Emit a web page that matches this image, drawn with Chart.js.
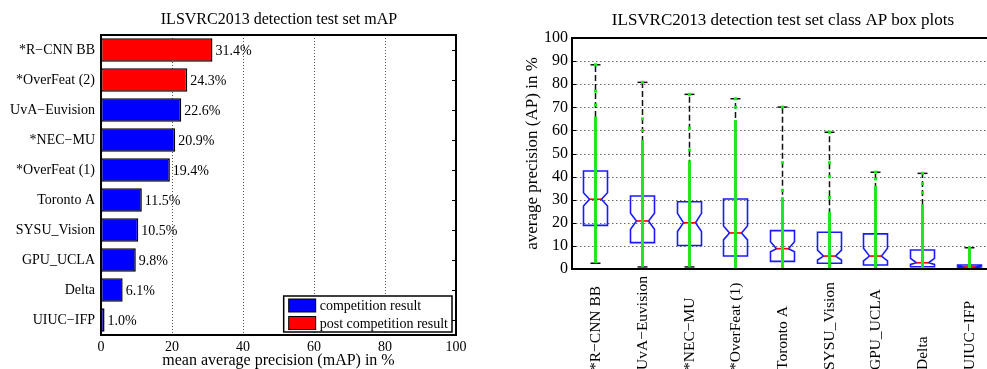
<!DOCTYPE html>
<html><head><meta charset="utf-8">
<script src="https://cdn.jsdelivr.net/npm/chart.js@4"></script>
<style>
html,body{margin:0;padding:0;background:#fff;overflow:hidden;width:987px;height:369px;}
#c1{position:absolute;left:0;top:0;}
#c2{position:absolute;left:500px;top:0;}
</style></head><body>
<canvas id="c1" width="558" height="369"></canvas>
<canvas id="c2" width="566" height="369"></canvas>
<script>
// ---------- data: left chart (mAP) ----------
const categories = ['*R−CNN BB', '*OverFeat (2)', 'UvA−Euvision', '*NEC−MU', '*OverFeat (1)', 'Toronto A', 'SYSU_Vision', 'GPU_UCLA', 'Delta', 'UIUC−IFP'];
const competitionMAP = [null, null, 22.6, 20.9, 19.4, 11.5, 10.5, 9.8, 6.1, 1.0];
const postCompetitionMAP = [31.4, 24.3, null, null, null, null, null, null, null, null];
const mapTicks = [0, 20, 40, 60, 80, 100];

// ---------- data: right chart (class AP box plots) ----------
const boxCategories = ['*R−CNN BB', 'UvA−Euvision', '*NEC−MU', '*OverFeat (1)', 'Toronto A', 'SYSU_Vision', 'GPU_UCLA', 'Delta', 'UIUC−IFP'];
const whiskerHigh = [88.4, 80.8, 75.6, 73.7, 70.1, 59.2, 41.9, 41.4, 9.2];
const quartile3   = [42.4, 31.6, 29.1, 30.3, 16.6, 15.9, 15.2, 8.2, 1.7];
const notchHigh   = [33.0, 24.1, 24.1, 18.6, 11.8, 8.2, 9.0, 4.6, 1.3];
const medianAP    = [30.2, 20.8, 20.0, 15.6, 8.8, 5.6, 5.6, 2.7, 0.9];
const notchLow    = [27.3, 17.2, 16.2, 12.6, 7.5, 3.9, 3.5, 2.0, 0.5];
const quartile1   = [18.9, 11.4, 10.2, 5.6, 3.3, 2.5, 1.7, 1.0, 0.2];
const whiskerLow  = [2.5, 0.9, 0.9, 0, 0, 0, 0, 0, 0];
const classAPDenseTop = [66, 55.8, 47, 64.5, 31, 24.8, 36, 28, 9.2];
const classAPSparse = [
  [71, 77, 88.4],
  [60, 65, 80.8],
  [51.5, 61, 75.6],
  [70, 73.7],
  [34, 46, 70.1],
  [31, 40, 46, 59.2],
  [39, 41.9],
  [33, 37, 41.4],
  [9.2]
];
const apTicks = [0, 10, 20, 30, 40, 50, 60, 70, 80, 90, 100];

const FONT = "'Liberation Serif', 'Times New Roman', serif";
const BLUE = '#0000ff', RED = '#ff0000';

// ---------- left chart decorations ----------
const leftDecor = {
  id: 'leftDecor',
  beforeDatasetsDraw(chart) {
    const {ctx, chartArea: a, scales: {x}} = chart;
    ctx.save();
    ctx.strokeStyle = '#555'; ctx.lineWidth = 1; ctx.setLineDash([1, 2]);
    mapTicks.forEach(v => {
      if (v === x.min || v === x.max) return;
      const px = Math.round(x.getPixelForValue(v)) + 0.5;
      ctx.beginPath(); ctx.moveTo(px, a.top); ctx.lineTo(px, a.bottom); ctx.stroke();
    });
    ctx.restore();
  },
  afterDatasetsDraw(chart) {
    const {ctx, chartArea: a, scales: {x, y}} = chart;
    ctx.save();
    // value labels
    ctx.font = '14px ' + FONT; ctx.fillStyle = '#000';
    ctx.textAlign = 'left'; ctx.textBaseline = 'middle';
    chart.data.datasets.forEach(ds => {
      ds.data.forEach((v, i) => {
        if (v == null) return;
        ctx.fillText(v.toFixed(1) + '%', x.getPixelForValue(v) + 3, y.getPixelForValue(i) + 1);
      });
    });
    // frame
    ctx.strokeStyle = '#000'; ctx.lineWidth = 2;
    ctx.strokeRect(a.left, a.top, a.right - a.left, a.bottom - a.top);
    // inside tick marks on right border
    ctx.lineWidth = 1;
    categories.forEach((c, i) => {
      const py = Math.round(y.getPixelForValue(i)) + 0.5;
      ctx.beginPath(); ctx.moveTo(a.right, py); ctx.lineTo(a.right - 4, py); ctx.stroke();
    });
    // legend
    ctx.font = '14px ' + FONT;
    const items = chart.data.datasets.map(ds => ({label: ds.label, color: ds.backgroundColor}));
    const tw = Math.max(...items.map(it => ctx.measureText(it.label).width));
    const bw = 5 + 27 + 4 + tw + 4, bh = 36;
    const bx = a.right - 4 - bw, by = a.bottom - 3 - bh;
    ctx.fillStyle = '#fff'; ctx.fillRect(bx, by, bw, bh);
    ctx.lineWidth = 1.5; ctx.strokeStyle = '#000'; ctx.strokeRect(bx, by, bw, bh);
    items.forEach((it, i) => {
      const cy = by + 9.5 + i * 17.5;
      ctx.fillStyle = it.color; ctx.fillRect(bx + 5, cy - 6.5, 27, 13);
      ctx.lineWidth = 1; ctx.strokeRect(bx + 5, cy - 6.5, 27, 13);
      ctx.fillStyle = '#000'; ctx.fillText(it.label, bx + 36, cy + 1);
    });
    ctx.restore();
  }
};

const spacer = (w) => ({type: 'linear', position: 'right', display: true,
  ticks: {display: false}, grid: {display: false, drawTicks: false}, border: {display: false},
  afterFit(s) { s.width = w; }});

new Chart(document.getElementById('c1'), {
  type: 'bar',
  data: {
    labels: categories,
    datasets: [
      {label: 'competition result', data: competitionMAP, backgroundColor: BLUE, borderColor: '#000', borderWidth: 1.5, borderSkipped: false, barPercentage: 0.78, categoryPercentage: 1},
      {label: 'post competition result', data: postCompetitionMAP, backgroundColor: RED, borderColor: '#000', borderWidth: 1.5, borderSkipped: false, barPercentage: 0.78, categoryPercentage: 1}
    ]
  },
  options: {
    indexAxis: 'y', responsive: false, animation: false, devicePixelRatio: 1,
    layout: {padding: 0},
    plugins: {
      legend: {display: false}, tooltip: {enabled: false},
      title: {display: true, text: 'ILSVRC2013 detection test set mAP', color: '#000',
        font: {family: FONT, size: 16, weight: 'normal'}, padding: {top: 10, bottom: 5.8}}
    },
    scales: {
      x: {type: 'linear', min: 0, max: 100, stacked: true,
        afterBuildTicks(s) { s.ticks = mapTicks.map(v => ({value: v})); },
        ticks: {font: {family: FONT, size: 14}, color: '#000', padding: 4, maxRotation: 0},
        grid: {display: false, drawTicks: false}, border: {display: false},
        title: {display: true, text: 'mean average precision (mAP) in %', color: '#000',
          font: {family: FONT, size: 16, lineHeight: 1}, padding: 0},
        afterFit(s) { s.height = 34; }},
      y: {stacked: true,
        ticks: {font: {family: FONT, size: 14}, color: '#000', padding: 6},
        grid: {display: false, drawTicks: false}, border: {display: false},
        afterFit(s) { s.width = 101; }},
      yRightSpace: Object.assign(spacer(102), {axis: 'y'})
    }
  },
  plugins: [leftDecor]
});

// ---------- right chart: box plots ----------
const boxPlugin = {
  id: 'boxPlugin',
  afterDatasetsDraw(chart) {
    const {ctx, chartArea: a, scales: {x, y}} = chart;
    ctx.save();
    // dotted grid
    ctx.strokeStyle = '#666'; ctx.lineWidth = 1; ctx.setLineDash([1.5, 2.5]);
    apTicks.forEach(v => {
      if (v === 0 || v === 100) return;
      const py = Math.round(y.getPixelForValue(v)) + 0.5;
      ctx.beginPath(); ctx.moveTo(a.left, py); ctx.lineTo(a.right, py); ctx.stroke();
    });
    ctx.setLineDash([]);
    const hw = 12, nw = 6, cw = 5;
    boxCategories.forEach((c, i) => {
      const cx = Math.round(x.getPixelForValue(i)) + 0.5;
      const Y = v => y.getPixelForValue(v);
      // whiskers
      ctx.strokeStyle = '#111'; ctx.lineWidth = 1.5; ctx.setLineDash([6, 3]);
      ctx.beginPath(); ctx.moveTo(cx, Y(quartile3[i])); ctx.lineTo(cx, Y(whiskerHigh[i])); ctx.stroke();
      if (whiskerLow[i] < quartile1[i]) {
        ctx.beginPath(); ctx.moveTo(cx, Y(quartile1[i])); ctx.lineTo(cx, Y(whiskerLow[i])); ctx.stroke();
      }
      ctx.setLineDash([]);
      // caps
      ctx.beginPath(); ctx.moveTo(cx - cw, Y(whiskerHigh[i])); ctx.lineTo(cx + cw, Y(whiskerHigh[i])); ctx.stroke();
      ctx.beginPath(); ctx.moveTo(cx - cw, Y(whiskerLow[i])); ctx.lineTo(cx + cw, Y(whiskerLow[i])); ctx.stroke();
      // notched box
      ctx.strokeStyle = '#1a1aff'; ctx.lineWidth = 1.6;
      ctx.beginPath();
      ctx.moveTo(cx - hw, Y(quartile3[i])); ctx.lineTo(cx + hw, Y(quartile3[i]));
      ctx.lineTo(cx + hw, Y(notchHigh[i])); ctx.lineTo(cx + nw, Y(medianAP[i]));
      ctx.lineTo(cx + hw, Y(notchLow[i])); ctx.lineTo(cx + hw, Y(quartile1[i]));
      ctx.lineTo(cx - hw, Y(quartile1[i])); ctx.lineTo(cx - hw, Y(notchLow[i]));
      ctx.lineTo(cx - nw, Y(medianAP[i])); ctx.lineTo(cx - hw, Y(notchHigh[i]));
      ctx.closePath(); ctx.stroke();
      // median
      ctx.strokeStyle = RED; ctx.lineWidth = 1.6;
      ctx.beginPath(); ctx.moveTo(cx - nw, Y(medianAP[i])); ctx.lineTo(cx + nw, Y(medianAP[i])); ctx.stroke();
      // class AP points (green)
      ctx.strokeStyle = '#22e622'; ctx.lineWidth = 3;
      ctx.beginPath(); ctx.moveTo(cx, Y(whiskerLow[i])); ctx.lineTo(cx, Y(classAPDenseTop[i])); ctx.stroke();
      ctx.fillStyle = '#22e622';
      classAPSparse[i].forEach(v => { ctx.fillRect(cx - 1.5, Y(v) - 1.5, 3, 3); });
    });
    // frame
    ctx.strokeStyle = '#000'; ctx.lineWidth = 2;
    ctx.beginPath();
    ctx.moveTo(a.right, a.top); ctx.lineTo(a.left, a.top); ctx.lineTo(a.left, a.bottom); ctx.lineTo(a.right, a.bottom);
    ctx.stroke();
    // inside ticks on left axis
    ctx.lineWidth = 1;
    apTicks.forEach(v => {
      const py = Math.round(y.getPixelForValue(v)) + 0.5;
      ctx.beginPath(); ctx.moveTo(a.left, py); ctx.lineTo(a.left + 4, py); ctx.stroke();
    });
    // rotated category labels
    ctx.font = '15.5px ' + FONT; ctx.fillStyle = '#000';
    ctx.textAlign = 'left'; ctx.textBaseline = 'middle';
    boxCategories.forEach((c, i) => {
      const cx = x.getPixelForValue(i);
      ctx.save(); ctx.translate(cx + 1, 370); ctx.rotate(-Math.PI / 2);
      ctx.fillText(c, 0, 0); ctx.restore();
    });
    ctx.restore();
  }
};

new Chart(document.getElementById('c2'), {
  type: 'line',
  data: {labels: boxCategories, datasets: [{label: 'median AP', data: medianAP, showLine: false, pointRadius: 0}]},
  options: {
    responsive: false, animation: false, devicePixelRatio: 1,
    layout: {padding: 0},
    plugins: {
      legend: {display: false}, tooltip: {enabled: false},
      title: {display: true, text: 'ILSVRC2013 detection test set class AP box plots', color: '#000',
        font: {family: FONT, size: 17, weight: 'normal'}, padding: {top: 10, bottom: 7.6}}
    },
    scales: {
      x: {type: 'category', offset: true, ticks: {display: false},
        grid: {display: false, drawTicks: false}, border: {display: false},
        afterFit(s) { s.height = 100; }},
      y: {min: 0, max: 100,
        afterBuildTicks(s) { s.ticks = apTicks.map(v => ({value: v})); },
        ticks: {font: {family: FONT, size: 16}, color: '#000', padding: 4},
        grid: {display: false, drawTicks: false}, border: {display: false},
        title: {display: true, text: 'average precision (AP) in %', color: '#000',
          font: {family: FONT, size: 17}, padding: {top: 22.8, bottom: 0}},
        afterFit(s) { s.width = 72; }},
      yRightSpace: Object.assign(spacer(74), {axis: 'y'})
    }
  },
  plugins: [boxPlugin]
});
</script>
</body></html>
